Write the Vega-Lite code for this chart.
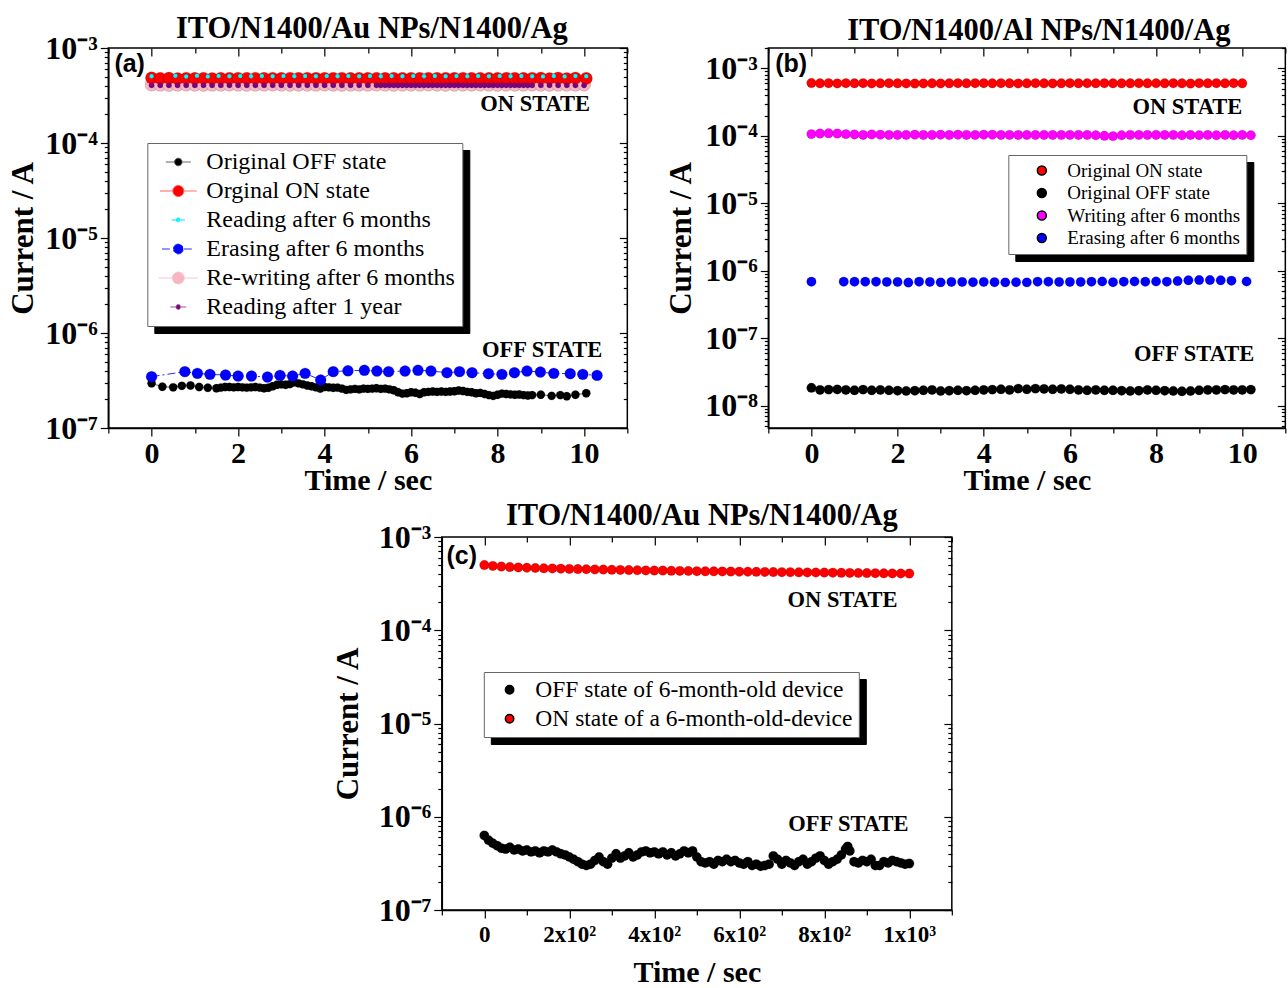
{
"$schema":"https://vega.github.io/schema/vega-lite/v6.json",
"background":"white",
"padding":{"left":6,"top":12,"right":0,"bottom":0},
"config":{"font":"Liberation Serif","view":{"stroke":"black","strokeWidth":1.5},
"axis":{"grid":false,"domainColor":"black","domainWidth":1.5,"tickColor":"black","tickWidth":1.2,"labelFont":"Liberation Serif","labelFontWeight":"bold","labelColor":"black","titleFont":"Liberation Serif","titleFontWeight":"bold","titleColor":"black"},
"legend":{"labelFont":"Liberation Serif","labelColor":"black","labelLimit":500},
"title":{"font":"Liberation Serif","fontWeight":"bold","color":"black","fontSize":30.5}},
"datasets":{
"names":[{"k":"a1","n":"Original OFF state"},{"k":"a2","n":"Orginal ON state"},{"k":"a3","n":"Reading after 6 months"},{"k":"a4","n":"Erasing after 6 months"},{"k":"a5","n":"Re-writing after 6 months"},{"k":"a6","n":"Reading after 1 year"},{"k":"b1","n":"Original ON state"},{"k":"b2","n":"Original OFF state"},{"k":"b3","n":"Writing after 6 months"},{"k":"b4","n":"Erasing after 6 months"},{"k":"c1","n":"OFF state of 6-month-old device"},{"k":"c2","n":"ON state of a 6-month-old-device"}],
"a":[
{"k":"a5","t":0,"i":4.12e-4},{"k":"a5","t":0.2,"i":4.1e-4},{"k":"a5","t":0.4,"i":4.08e-4},{"k":"a5","t":0.6,"i":4.1e-4},{"k":"a5","t":0.8,"i":4.11e-4},{"k":"a5","t":1,"i":4.1e-4},{"k":"a5","t":1.2,"i":4.09e-4},{"k":"a5","t":1.4,"i":4.1e-4},{"k":"a5","t":1.6,"i":4.1e-4},{"k":"a5","t":1.8,"i":4.11e-4},{"k":"a5","t":2,"i":4.1e-4},{"k":"a5","t":2.2,"i":4.09e-4},{"k":"a5","t":2.4,"i":4.1e-4},{"k":"a5","t":2.6,"i":4.1e-4},{"k":"a5","t":2.8,"i":4.11e-4},{"k":"a5","t":3,"i":4.1e-4},{"k":"a5","t":3.2,"i":4.09e-4},{"k":"a5","t":3.4,"i":4.1e-4},{"k":"a5","t":3.6,"i":4.1e-4},{"k":"a5","t":3.8,"i":4.1e-4},{"k":"a5","t":4,"i":4.11e-4},{"k":"a5","t":4.2,"i":4.1e-4},{"k":"a5","t":4.4,"i":4.09e-4},{"k":"a5","t":4.6,"i":4.1e-4},{"k":"a5","t":4.8,"i":4.1e-4},{"k":"a5","t":5,"i":4.1e-4},{"k":"a5","t":5.2,"i":4.11e-4},{"k":"a5","t":5.4,"i":4.1e-4},{"k":"a5","t":5.6,"i":4.09e-4},{"k":"a5","t":5.8,"i":4.1e-4},{"k":"a5","t":6,"i":4.1e-4},{"k":"a5","t":6.2,"i":4.1e-4},{"k":"a5","t":6.4,"i":4.11e-4},{"k":"a5","t":6.6,"i":4.1e-4},{"k":"a5","t":6.8,"i":4.09e-4},{"k":"a5","t":7,"i":4.1e-4},{"k":"a5","t":7.2,"i":4.1e-4},{"k":"a5","t":7.4,"i":4.1e-4},{"k":"a5","t":7.6,"i":4.11e-4},{"k":"a5","t":7.8,"i":4.1e-4},{"k":"a5","t":8,"i":4.09e-4},{"k":"a5","t":8.2,"i":4.1e-4},{"k":"a5","t":8.4,"i":4.1e-4},{"k":"a5","t":8.6,"i":4.1e-4},{"k":"a5","t":8.8,"i":4.11e-4},{"k":"a5","t":9,"i":4.1e-4},{"k":"a5","t":9.2,"i":4.09e-4},{"k":"a5","t":9.4,"i":4.1e-4},{"k":"a5","t":9.6,"i":4.1e-4},{"k":"a5","t":9.8,"i":4.1e-4},{"k":"a5","t":10,"i":4.11e-4},
{"k":"a2","t":0,"i":4.85e-4},{"k":"a2","t":0.2,"i":4.78e-4},{"k":"a2","t":0.4,"i":4.82e-4},{"k":"a2","t":0.6,"i":4.76e-4},{"k":"a2","t":0.8,"i":4.8e-4},{"k":"a2","t":1,"i":4.78e-4},{"k":"a2","t":1.2,"i":4.8e-4},{"k":"a2","t":1.4,"i":4.77e-4},{"k":"a2","t":1.6,"i":4.8e-4},{"k":"a2","t":1.8,"i":4.79e-4},{"k":"a2","t":2,"i":4.8e-4},{"k":"a2","t":2.2,"i":4.78e-4},{"k":"a2","t":2.4,"i":4.8e-4},{"k":"a2","t":2.6,"i":4.79e-4},{"k":"a2","t":2.8,"i":4.8e-4},{"k":"a2","t":3,"i":4.78e-4},{"k":"a2","t":3.2,"i":4.8e-4},{"k":"a2","t":3.4,"i":4.79e-4},{"k":"a2","t":3.6,"i":4.8e-4},{"k":"a2","t":3.8,"i":4.78e-4},{"k":"a2","t":4,"i":4.8e-4},{"k":"a2","t":4.2,"i":4.79e-4},{"k":"a2","t":4.4,"i":4.8e-4},{"k":"a2","t":4.6,"i":4.78e-4},{"k":"a2","t":4.8,"i":4.8e-4},{"k":"a2","t":5,"i":4.79e-4},{"k":"a2","t":5.2,"i":4.8e-4},{"k":"a2","t":5.4,"i":4.78e-4},{"k":"a2","t":5.6,"i":4.8e-4},{"k":"a2","t":5.8,"i":4.79e-4},{"k":"a2","t":6,"i":4.8e-4},{"k":"a2","t":6.2,"i":4.78e-4},{"k":"a2","t":6.4,"i":4.8e-4},{"k":"a2","t":6.6,"i":4.79e-4},{"k":"a2","t":6.8,"i":4.8e-4},{"k":"a2","t":7,"i":4.78e-4},{"k":"a2","t":7.2,"i":4.8e-4},{"k":"a2","t":7.4,"i":4.79e-4},{"k":"a2","t":7.6,"i":4.8e-4},{"k":"a2","t":7.8,"i":4.78e-4},{"k":"a2","t":8,"i":4.8e-4},{"k":"a2","t":8.2,"i":4.79e-4},{"k":"a2","t":8.4,"i":4.8e-4},{"k":"a2","t":8.6,"i":4.78e-4},{"k":"a2","t":8.8,"i":4.8e-4},{"k":"a2","t":9,"i":4.82e-4},{"k":"a2","t":9.2,"i":4.77e-4},{"k":"a2","t":9.4,"i":4.82e-4},{"k":"a2","t":9.6,"i":4.76e-4},{"k":"a2","t":9.8,"i":4.82e-4},{"k":"a2","t":10.05,"i":4.78e-4},
{"k":"a3","t":0,"i":5.05e-4},{"k":"a3","t":0.55,"i":5.1e-4},{"k":"a3","t":0.8,"i":5.02e-4},{"k":"a3","t":1.05,"i":5.1e-4},{"k":"a3","t":1.3,"i":5.0e-4},{"k":"a3","t":1.55,"i":5.08e-4},{"k":"a3","t":1.8,"i":5.05e-4},{"k":"a3","t":2.05,"i":5.06e-4},{"k":"a3","t":2.3,"i":5.05e-4},{"k":"a3","t":2.55,"i":5.06e-4},{"k":"a3","t":2.8,"i":5.05e-4},{"k":"a3","t":3.05,"i":5.06e-4},{"k":"a3","t":3.3,"i":5.05e-4},{"k":"a3","t":3.55,"i":5.06e-4},{"k":"a3","t":3.8,"i":5.05e-4},{"k":"a3","t":4.05,"i":5.06e-4},{"k":"a3","t":4.3,"i":5.05e-4},{"k":"a3","t":4.55,"i":5.06e-4},{"k":"a3","t":4.8,"i":5.05e-4},{"k":"a3","t":5.05,"i":5.06e-4},{"k":"a3","t":5.3,"i":5.05e-4},{"k":"a3","t":5.55,"i":5.06e-4},{"k":"a3","t":5.8,"i":5.05e-4},{"k":"a3","t":6.05,"i":5.06e-4},{"k":"a3","t":6.3,"i":5.05e-4},{"k":"a3","t":6.55,"i":5.06e-4},{"k":"a3","t":6.8,"i":5.05e-4},{"k":"a3","t":7.05,"i":5.06e-4},{"k":"a3","t":7.3,"i":5.05e-4},{"k":"a3","t":7.55,"i":5.06e-4},{"k":"a3","t":7.8,"i":5.05e-4},{"k":"a3","t":8.05,"i":5.06e-4},{"k":"a3","t":8.3,"i":5.05e-4},{"k":"a3","t":8.55,"i":5.06e-4},{"k":"a3","t":8.8,"i":5.05e-4},{"k":"a3","t":9.05,"i":5.02e-4},{"k":"a3","t":9.3,"i":5.08e-4},{"k":"a3","t":9.55,"i":5.02e-4},{"k":"a3","t":9.8,"i":5.08e-4},{"k":"a3","t":10.05,"i":5.04e-4},
{"k":"a6","t":0,"i":4.05e-4},{"k":"a6","t":0.2,"i":4.05e-4},{"k":"a6","t":0.4,"i":4.05e-4},{"k":"a6","t":0.6,"i":4.05e-4},{"k":"a6","t":0.8,"i":4.05e-4},{"k":"a6","t":1,"i":4.05e-4},{"k":"a6","t":1.2,"i":4.05e-4},{"k":"a6","t":1.4,"i":4.05e-4},{"k":"a6","t":1.6,"i":4.05e-4},{"k":"a6","t":1.8,"i":4.05e-4},{"k":"a6","t":2,"i":4.05e-4},{"k":"a6","t":2.2,"i":4.05e-4},{"k":"a6","t":2.4,"i":4.05e-4},{"k":"a6","t":2.6,"i":4.05e-4},{"k":"a6","t":2.8,"i":4.05e-4},{"k":"a6","t":3,"i":4.05e-4},{"k":"a6","t":3.2,"i":4.05e-4},{"k":"a6","t":3.4,"i":4.05e-4},{"k":"a6","t":3.6,"i":4.05e-4},{"k":"a6","t":3.8,"i":4.05e-4},{"k":"a6","t":4,"i":4.05e-4},{"k":"a6","t":4.2,"i":4.05e-4},{"k":"a6","t":4.4,"i":4.05e-4},{"k":"a6","t":4.6,"i":4.05e-4},{"k":"a6","t":4.8,"i":4.05e-4},{"k":"a6","t":5,"i":4.05e-4},{"k":"a6","t":5.2,"i":4.05e-4},{"k":"a6","t":5.3,"i":4.05e-4},{"k":"a6","t":5.4,"i":4.05e-4},{"k":"a6","t":5.5,"i":4.05e-4},{"k":"a6","t":5.6,"i":4.05e-4},{"k":"a6","t":5.7,"i":4.05e-4},{"k":"a6","t":5.8,"i":4.05e-4},{"k":"a6","t":5.9,"i":4.05e-4},{"k":"a6","t":6,"i":4.05e-4},{"k":"a6","t":6.1,"i":4.05e-4},{"k":"a6","t":6.2,"i":4.05e-4},{"k":"a6","t":6.3,"i":4.05e-4},{"k":"a6","t":6.4,"i":4.05e-4},{"k":"a6","t":6.5,"i":4.05e-4},{"k":"a6","t":6.6,"i":4.05e-4},{"k":"a6","t":6.7,"i":4.05e-4},{"k":"a6","t":6.8,"i":4.05e-4},{"k":"a6","t":6.9,"i":4.05e-4},{"k":"a6","t":7,"i":4.05e-4},{"k":"a6","t":7.1,"i":4.05e-4},{"k":"a6","t":7.2,"i":4.05e-4},{"k":"a6","t":7.3,"i":4.05e-4},{"k":"a6","t":7.4,"i":4.05e-4},{"k":"a6","t":7.5,"i":4.05e-4},{"k":"a6","t":7.6,"i":4.05e-4},{"k":"a6","t":7.7,"i":4.05e-4},{"k":"a6","t":7.8,"i":4.05e-4},{"k":"a6","t":7.9,"i":4.05e-4},{"k":"a6","t":8,"i":4.05e-4},{"k":"a6","t":8.1,"i":4.05e-4},{"k":"a6","t":8.2,"i":4.05e-4},{"k":"a6","t":8.3,"i":4.05e-4},{"k":"a6","t":8.4,"i":4.05e-4},{"k":"a6","t":8.5,"i":4.05e-4},{"k":"a6","t":8.6,"i":4.05e-4},{"k":"a6","t":8.7,"i":4.05e-4},{"k":"a6","t":8.8,"i":4.05e-4},{"k":"a6","t":9,"i":4.05e-4},{"k":"a6","t":9.2,"i":4.05e-4},{"k":"a6","t":9.4,"i":4.05e-4},{"k":"a6","t":9.6,"i":4.05e-4},{"k":"a6","t":9.8,"i":4.05e-4},{"k":"a6","t":10,"i":4.05e-4},
{"k":"a1","t":0,"i":2.95e-7},{"k":"a1","t":0.25,"i":2.72e-7},{"k":"a1","t":0.5,"i":2.68e-7},{"k":"a1","t":0.7,"i":2.78e-7},{"k":"a1","t":0.9,"i":2.8e-7},{"k":"a1","t":1.1,"i":2.7e-7},{"k":"a1","t":1.3,"i":2.65e-7},{"k":"a1","t":1.5,"i":2.62e-7},{"k":"a1","t":1.6,"i":2.66e-7},{"k":"a1","t":1.7,"i":2.7e-7},{"k":"a1","t":1.8,"i":2.7e-7},{"k":"a1","t":1.9,"i":2.68e-7},{"k":"a1","t":2,"i":2.7e-7},{"k":"a1","t":2.1,"i":2.68e-7},{"k":"a1","t":2.2,"i":2.66e-7},{"k":"a1","t":2.3,"i":2.68e-7},{"k":"a1","t":2.4,"i":2.7e-7},{"k":"a1","t":2.5,"i":2.66e-7},{"k":"a1","t":2.6,"i":2.62e-7},{"k":"a1","t":2.7,"i":2.65e-7},{"k":"a1","t":2.8,"i":2.75e-7},{"k":"a1","t":2.9,"i":2.85e-7},{"k":"a1","t":3,"i":2.88e-7},{"k":"a1","t":3.1,"i":2.85e-7},{"k":"a1","t":3.2,"i":2.9e-7},{"k":"a1","t":3.3,"i":3.02e-7},{"k":"a1","t":3.4,"i":2.95e-7},{"k":"a1","t":3.5,"i":2.88e-7},{"k":"a1","t":3.6,"i":2.8e-7},{"k":"a1","t":3.7,"i":2.75e-7},{"k":"a1","t":3.8,"i":2.68e-7},{"k":"a1","t":3.9,"i":2.6e-7},{"k":"a1","t":4,"i":2.7e-7},{"k":"a1","t":4.1,"i":2.68e-7},{"k":"a1","t":4.2,"i":2.65e-7},{"k":"a1","t":4.3,"i":2.66e-7},{"k":"a1","t":4.4,"i":2.6e-7},{"k":"a1","t":4.5,"i":2.52e-7},{"k":"a1","t":4.6,"i":2.55e-7},{"k":"a1","t":4.7,"i":2.58e-7},{"k":"a1","t":4.8,"i":2.55e-7},{"k":"a1","t":4.9,"i":2.6e-7},{"k":"a1","t":5,"i":2.58e-7},{"k":"a1","t":5.1,"i":2.6e-7},{"k":"a1","t":5.2,"i":2.62e-7},{"k":"a1","t":5.3,"i":2.58e-7},{"k":"a1","t":5.4,"i":2.6e-7},{"k":"a1","t":5.5,"i":2.55e-7},{"k":"a1","t":5.6,"i":2.5e-7},{"k":"a1","t":5.7,"i":2.38e-7},{"k":"a1","t":5.8,"i":2.3e-7},{"k":"a1","t":5.9,"i":2.32e-7},{"k":"a1","t":6,"i":2.38e-7},{"k":"a1","t":6.1,"i":2.35e-7},{"k":"a1","t":6.2,"i":2.28e-7},{"k":"a1","t":6.3,"i":2.38e-7},{"k":"a1","t":6.4,"i":2.4e-7},{"k":"a1","t":6.5,"i":2.42e-7},{"k":"a1","t":6.6,"i":2.4e-7},{"k":"a1","t":6.7,"i":2.42e-7},{"k":"a1","t":6.8,"i":2.4e-7},{"k":"a1","t":6.9,"i":2.42e-7},{"k":"a1","t":7,"i":2.44e-7},{"k":"a1","t":7.1,"i":2.48e-7},{"k":"a1","t":7.2,"i":2.45e-7},{"k":"a1","t":7.3,"i":2.4e-7},{"k":"a1","t":7.4,"i":2.38e-7},{"k":"a1","t":7.5,"i":2.32e-7},{"k":"a1","t":7.6,"i":2.34e-7},{"k":"a1","t":7.7,"i":2.28e-7},{"k":"a1","t":7.8,"i":2.22e-7},{"k":"a1","t":7.9,"i":2.18e-7},{"k":"a1","t":8,"i":2.24e-7},{"k":"a1","t":8.1,"i":2.3e-7},{"k":"a1","t":8.2,"i":2.28e-7},{"k":"a1","t":8.3,"i":2.26e-7},{"k":"a1","t":8.4,"i":2.24e-7},{"k":"a1","t":8.5,"i":2.25e-7},{"k":"a1","t":8.6,"i":2.22e-7},{"k":"a1","t":8.7,"i":2.2e-7},{"k":"a1","t":8.8,"i":2.22e-7},{"k":"a1","t":9,"i":2.24e-7},{"k":"a1","t":9.25,"i":2.18e-7},{"k":"a1","t":9.45,"i":2.22e-7},{"k":"a1","t":9.6,"i":2.16e-7},{"k":"a1","t":9.8,"i":2.24e-7},{"k":"a1","t":10.05,"i":2.32e-7},
{"k":"a4","t":0,"i":3.47e-7},{"k":"a4","t":0.77,"i":3.92e-7},{"k":"a4","t":1.06,"i":3.76e-7},{"k":"a4","t":1.35,"i":3.67e-7},{"k":"a4","t":1.71,"i":3.61e-7},{"k":"a4","t":2,"i":3.52e-7},{"k":"a4","t":2.31,"i":3.52e-7},{"k":"a4","t":2.68,"i":3.44e-7},{"k":"a4","t":2.97,"i":3.58e-7},{"k":"a4","t":3.26,"i":3.52e-7},{"k":"a4","t":3.55,"i":3.76e-7},{"k":"a4","t":3.91,"i":3.2e-7},{"k":"a4","t":4.2,"i":3.92e-7},{"k":"a4","t":4.54,"i":4.0e-7},{"k":"a4","t":4.92,"i":4.05e-7},{"k":"a4","t":5.21,"i":3.98e-7},{"k":"a4","t":5.48,"i":3.92e-7},{"k":"a4","t":5.86,"i":3.98e-7},{"k":"a4","t":6.16,"i":4.05e-7},{"k":"a4","t":6.46,"i":3.98e-7},{"k":"a4","t":6.83,"i":3.82e-7},{"k":"a4","t":7.12,"i":3.92e-7},{"k":"a4","t":7.41,"i":3.82e-7},{"k":"a4","t":7.79,"i":3.73e-7},{"k":"a4","t":8.1,"i":3.67e-7},{"k":"a4","t":8.39,"i":3.82e-7},{"k":"a4","t":8.68,"i":3.98e-7},{"k":"a4","t":8.99,"i":3.88e-7},{"k":"a4","t":9.3,"i":3.76e-7},{"k":"a4","t":9.68,"i":3.73e-7},{"k":"a4","t":9.97,"i":3.67e-7},{"k":"a4","t":10.3,"i":3.58e-7}
],
"b":[
{"k":"b1","t":0,"i":6.05e-4},{"k":"b1","t":0.2,"i":6.0e-4},{"k":"b1","t":0.4,"i":6.02e-4},{"k":"b1","t":0.6,"i":5.98e-4},{"k":"b1","t":0.8,"i":6.02e-4},{"k":"b1","t":1,"i":6.0e-4},{"k":"b1","t":1.2,"i":6.02e-4},{"k":"b1","t":1.4,"i":5.98e-4},{"k":"b1","t":1.6,"i":6.0e-4},{"k":"b1","t":1.8,"i":6.02e-4},{"k":"b1","t":2,"i":6.0e-4},{"k":"b1","t":2.2,"i":5.98e-4},{"k":"b1","t":2.4,"i":5.95e-4},{"k":"b1","t":2.6,"i":5.97e-4},{"k":"b1","t":2.8,"i":6.0e-4},{"k":"b1","t":3,"i":5.98e-4},{"k":"b1","t":3.2,"i":6.0e-4},{"k":"b1","t":3.4,"i":6.02e-4},{"k":"b1","t":3.6,"i":6.0e-4},{"k":"b1","t":3.8,"i":6.02e-4},{"k":"b1","t":4,"i":6.03e-4},{"k":"b1","t":4.2,"i":6.0e-4},{"k":"b1","t":4.4,"i":6.02e-4},{"k":"b1","t":4.6,"i":6.0e-4},{"k":"b1","t":4.8,"i":5.98e-4},{"k":"b1","t":5,"i":6.0e-4},{"k":"b1","t":5.2,"i":6.02e-4},{"k":"b1","t":5.4,"i":6.0e-4},{"k":"b1","t":5.6,"i":5.98e-4},{"k":"b1","t":5.8,"i":6.0e-4},{"k":"b1","t":6,"i":6.02e-4},{"k":"b1","t":6.2,"i":6.0e-4},{"k":"b1","t":6.4,"i":6.01e-4},{"k":"b1","t":6.6,"i":6.0e-4},{"k":"b1","t":6.8,"i":6.02e-4},{"k":"b1","t":7,"i":6.0e-4},{"k":"b1","t":7.2,"i":5.99e-4},{"k":"b1","t":7.4,"i":6.0e-4},{"k":"b1","t":7.6,"i":6.02e-4},{"k":"b1","t":7.8,"i":6.0e-4},{"k":"b1","t":8,"i":6.01e-4},{"k":"b1","t":8.2,"i":6.0e-4},{"k":"b1","t":8.4,"i":6.02e-4},{"k":"b1","t":8.6,"i":6.0e-4},{"k":"b1","t":8.8,"i":5.95e-4},{"k":"b1","t":9,"i":6.02e-4},{"k":"b1","t":9.2,"i":6.0e-4},{"k":"b1","t":9.4,"i":6.02e-4},{"k":"b1","t":9.6,"i":6.0e-4},{"k":"b1","t":9.8,"i":6.02e-4},{"k":"b1","t":10,"i":6.0e-4},
{"k":"b3","t":0,"i":1.06e-4},{"k":"b3","t":0.2,"i":1.08e-4},{"k":"b3","t":0.4,"i":1.09e-4},{"k":"b3","t":0.6,"i":1.08e-4},{"k":"b3","t":0.8,"i":1.06e-4},{"k":"b3","t":1,"i":1.05e-4},{"k":"b3","t":1.2,"i":1.03e-4},{"k":"b3","t":1.4,"i":1.05e-4},{"k":"b3","t":1.6,"i":1.04e-4},{"k":"b3","t":1.8,"i":1.03e-4},{"k":"b3","t":2,"i":1.03e-4},{"k":"b3","t":2.2,"i":1.03e-4},{"k":"b3","t":2.4,"i":1.04e-4},{"k":"b3","t":2.6,"i":1.03e-4},{"k":"b3","t":2.8,"i":1.03e-4},{"k":"b3","t":3,"i":1.04e-4},{"k":"b3","t":3.2,"i":1.03e-4},{"k":"b3","t":3.4,"i":1.04e-4},{"k":"b3","t":3.6,"i":1.03e-4},{"k":"b3","t":3.8,"i":1.03e-4},{"k":"b3","t":4,"i":1.04e-4},{"k":"b3","t":4.2,"i":1.04e-4},{"k":"b3","t":4.4,"i":1.03e-4},{"k":"b3","t":4.6,"i":1.03e-4},{"k":"b3","t":4.8,"i":1.03e-4},{"k":"b3","t":5,"i":1.03e-4},{"k":"b3","t":5.2,"i":1.03e-4},{"k":"b3","t":5.4,"i":1.03e-4},{"k":"b3","t":5.6,"i":1.03e-4},{"k":"b3","t":5.8,"i":1.03e-4},{"k":"b3","t":6,"i":1.03e-4},{"k":"b3","t":6.2,"i":1.03e-4},{"k":"b3","t":6.4,"i":1.03e-4},{"k":"b3","t":6.6,"i":1.02e-4},{"k":"b3","t":6.8,"i":1.0e-4},{"k":"b3","t":7,"i":0.99e-4},{"k":"b3","t":7.2,"i":1.02e-4},{"k":"b3","t":7.4,"i":1.03e-4},{"k":"b3","t":7.6,"i":1.03e-4},{"k":"b3","t":7.8,"i":1.03e-4},{"k":"b3","t":8,"i":1.03e-4},{"k":"b3","t":8.2,"i":1.03e-4},{"k":"b3","t":8.4,"i":1.03e-4},{"k":"b3","t":8.6,"i":1.02e-4},{"k":"b3","t":8.8,"i":1.03e-4},{"k":"b3","t":9,"i":1.02e-4},{"k":"b3","t":9.2,"i":1.03e-4},{"k":"b3","t":9.4,"i":1.02e-4},{"k":"b3","t":9.6,"i":1.03e-4},{"k":"b3","t":9.8,"i":1.02e-4},{"k":"b3","t":10,"i":1.03e-4},{"k":"b3","t":10.2,"i":1.02e-4},
{"k":"b4","t":0,"i":6.9e-7},{"k":"b4","t":0.75,"i":6.9e-7},{"k":"b4","t":1,"i":6.9e-7},{"k":"b4","t":1.25,"i":6.9e-7},{"k":"b4","t":1.5,"i":6.9e-7},{"k":"b4","t":1.75,"i":6.85e-7},{"k":"b4","t":2,"i":6.85e-7},{"k":"b4","t":2.25,"i":6.7e-7},{"k":"b4","t":2.5,"i":6.9e-7},{"k":"b4","t":2.75,"i":6.85e-7},{"k":"b4","t":3,"i":6.75e-7},{"k":"b4","t":3.25,"i":6.85e-7},{"k":"b4","t":3.5,"i":6.85e-7},{"k":"b4","t":3.75,"i":6.8e-7},{"k":"b4","t":4,"i":6.85e-7},{"k":"b4","t":4.25,"i":6.8e-7},{"k":"b4","t":4.5,"i":6.75e-7},{"k":"b4","t":4.75,"i":6.8e-7},{"k":"b4","t":5,"i":6.75e-7},{"k":"b4","t":5.25,"i":6.9e-7},{"k":"b4","t":5.5,"i":6.9e-7},{"k":"b4","t":5.75,"i":6.85e-7},{"k":"b4","t":6,"i":6.85e-7},{"k":"b4","t":6.25,"i":6.85e-7},{"k":"b4","t":6.5,"i":6.9e-7},{"k":"b4","t":6.75,"i":6.95e-7},{"k":"b4","t":7,"i":6.8e-7},{"k":"b4","t":7.25,"i":6.9e-7},{"k":"b4","t":7.5,"i":6.95e-7},{"k":"b4","t":7.75,"i":6.9e-7},{"k":"b4","t":8,"i":6.95e-7},{"k":"b4","t":8.25,"i":6.9e-7},{"k":"b4","t":8.5,"i":7.05e-7},{"k":"b4","t":8.75,"i":7.25e-7},{"k":"b4","t":9,"i":7.3e-7},{"k":"b4","t":9.25,"i":7.3e-7},{"k":"b4","t":9.5,"i":7.25e-7},{"k":"b4","t":9.75,"i":7.15e-7},{"k":"b4","t":10.1,"i":6.95e-7},
{"k":"b2","t":0,"i":1.85e-8},{"k":"b2","t":0.2,"i":1.72e-8},{"k":"b2","t":0.4,"i":1.74e-8},{"k":"b2","t":0.6,"i":1.75e-8},{"k":"b2","t":0.8,"i":1.72e-8},{"k":"b2","t":1,"i":1.7e-8},{"k":"b2","t":1.2,"i":1.74e-8},{"k":"b2","t":1.4,"i":1.7e-8},{"k":"b2","t":1.6,"i":1.72e-8},{"k":"b2","t":1.8,"i":1.7e-8},{"k":"b2","t":2,"i":1.68e-8},{"k":"b2","t":2.2,"i":1.66e-8},{"k":"b2","t":2.4,"i":1.68e-8},{"k":"b2","t":2.6,"i":1.7e-8},{"k":"b2","t":2.8,"i":1.72e-8},{"k":"b2","t":3,"i":1.66e-8},{"k":"b2","t":3.2,"i":1.68e-8},{"k":"b2","t":3.4,"i":1.7e-8},{"k":"b2","t":3.6,"i":1.68e-8},{"k":"b2","t":3.8,"i":1.7e-8},{"k":"b2","t":4,"i":1.72e-8},{"k":"b2","t":4.2,"i":1.74e-8},{"k":"b2","t":4.4,"i":1.76e-8},{"k":"b2","t":4.6,"i":1.72e-8},{"k":"b2","t":4.8,"i":1.8e-8},{"k":"b2","t":5,"i":1.76e-8},{"k":"b2","t":5.2,"i":1.8e-8},{"k":"b2","t":5.4,"i":1.78e-8},{"k":"b2","t":5.6,"i":1.76e-8},{"k":"b2","t":5.8,"i":1.78e-8},{"k":"b2","t":6,"i":1.76e-8},{"k":"b2","t":6.2,"i":1.72e-8},{"k":"b2","t":6.4,"i":1.7e-8},{"k":"b2","t":6.6,"i":1.72e-8},{"k":"b2","t":6.8,"i":1.7e-8},{"k":"b2","t":7,"i":1.7e-8},{"k":"b2","t":7.2,"i":1.68e-8},{"k":"b2","t":7.4,"i":1.66e-8},{"k":"b2","t":7.6,"i":1.68e-8},{"k":"b2","t":7.8,"i":1.72e-8},{"k":"b2","t":8,"i":1.7e-8},{"k":"b2","t":8.2,"i":1.68e-8},{"k":"b2","t":8.4,"i":1.66e-8},{"k":"b2","t":8.6,"i":1.64e-8},{"k":"b2","t":8.8,"i":1.66e-8},{"k":"b2","t":9,"i":1.7e-8},{"k":"b2","t":9.2,"i":1.72e-8},{"k":"b2","t":9.4,"i":1.72e-8},{"k":"b2","t":9.6,"i":1.74e-8},{"k":"b2","t":9.8,"i":1.72e-8},{"k":"b2","t":10,"i":1.72e-8},{"k":"b2","t":10.2,"i":1.74e-8}
],
"c":[
{"k":"c2","t":0,"i":5.0e-4},{"k":"c2","t":20,"i":4.9e-4},{"k":"c2","t":40,"i":4.82e-4},{"k":"c2","t":60,"i":4.76e-4},{"k":"c2","t":80,"i":4.72e-4},{"k":"c2","t":100,"i":4.68e-4},{"k":"c2","t":120,"i":4.65e-4},{"k":"c2","t":140,"i":4.62e-4},{"k":"c2","t":160,"i":4.6e-4},{"k":"c2","t":180,"i":4.57e-4},{"k":"c2","t":200,"i":4.55e-4},{"k":"c2","t":220,"i":4.53e-4},{"k":"c2","t":240,"i":4.51e-4},{"k":"c2","t":260,"i":4.49e-4},{"k":"c2","t":280,"i":4.47e-4},{"k":"c2","t":300,"i":4.45e-4},{"k":"c2","t":320,"i":4.43e-4},{"k":"c2","t":340,"i":4.42e-4},{"k":"c2","t":360,"i":4.4e-4},{"k":"c2","t":380,"i":4.38e-4},{"k":"c2","t":400,"i":4.37e-4},{"k":"c2","t":420,"i":4.36e-4},{"k":"c2","t":440,"i":4.34e-4},{"k":"c2","t":460,"i":4.33e-4},{"k":"c2","t":480,"i":4.32e-4},{"k":"c2","t":500,"i":4.3e-4},{"k":"c2","t":520,"i":4.29e-4},{"k":"c2","t":540,"i":4.28e-4},{"k":"c2","t":560,"i":4.27e-4},{"k":"c2","t":580,"i":4.26e-4},{"k":"c2","t":600,"i":4.25e-4},{"k":"c2","t":620,"i":4.24e-4},{"k":"c2","t":640,"i":4.23e-4},{"k":"c2","t":660,"i":4.22e-4},{"k":"c2","t":680,"i":4.21e-4},{"k":"c2","t":700,"i":4.2e-4},{"k":"c2","t":720,"i":4.19e-4},{"k":"c2","t":740,"i":4.18e-4},{"k":"c2","t":760,"i":4.17e-4},{"k":"c2","t":780,"i":4.16e-4},{"k":"c2","t":800,"i":4.15e-4},{"k":"c2","t":820,"i":4.14e-4},{"k":"c2","t":840,"i":4.13e-4},{"k":"c2","t":860,"i":4.12e-4},{"k":"c2","t":880,"i":4.11e-4},{"k":"c2","t":900,"i":4.1e-4},{"k":"c2","t":920,"i":4.09e-4},{"k":"c2","t":940,"i":4.08e-4},{"k":"c2","t":960,"i":4.07e-4},{"k":"c2","t":980,"i":4.06e-4},{"k":"c2","t":1000,"i":4.05e-4},
{"k":"c1","t":0,"i":6.3e-7},{"k":"c1","t":10,"i":5.6e-7},{"k":"c1","t":20,"i":5.2e-7},{"k":"c1","t":30,"i":4.9e-7},{"k":"c1","t":40,"i":4.6e-7},{"k":"c1","t":50,"i":4.5e-7},{"k":"c1","t":60,"i":4.7e-7},{"k":"c1","t":70,"i":4.4e-7},{"k":"c1","t":80,"i":4.5e-7},{"k":"c1","t":90,"i":4.3e-7},{"k":"c1","t":100,"i":4.4e-7},{"k":"c1","t":110,"i":4.2e-7},{"k":"c1","t":120,"i":4.3e-7},{"k":"c1","t":130,"i":4.1e-7},{"k":"c1","t":140,"i":4.3e-7},{"k":"c1","t":150,"i":4.2e-7},{"k":"c1","t":160,"i":4.4e-7},{"k":"c1","t":170,"i":4.2e-7},{"k":"c1","t":180,"i":4.0e-7},{"k":"c1","t":190,"i":3.9e-7},{"k":"c1","t":200,"i":3.7e-7},{"k":"c1","t":210,"i":3.5e-7},{"k":"c1","t":220,"i":3.3e-7},{"k":"c1","t":230,"i":3.1e-7},{"k":"c1","t":240,"i":3.0e-7},{"k":"c1","t":250,"i":3.1e-7},{"k":"c1","t":260,"i":3.4e-7},{"k":"c1","t":270,"i":3.7e-7},{"k":"c1","t":280,"i":3.3e-7},{"k":"c1","t":290,"i":3.1e-7},{"k":"c1","t":300,"i":3.6e-7},{"k":"c1","t":310,"i":4.0e-7},{"k":"c1","t":320,"i":3.6e-7},{"k":"c1","t":330,"i":3.8e-7},{"k":"c1","t":340,"i":4.1e-7},{"k":"c1","t":350,"i":3.7e-7},{"k":"c1","t":360,"i":3.9e-7},{"k":"c1","t":370,"i":4.2e-7},{"k":"c1","t":380,"i":4.3e-7},{"k":"c1","t":390,"i":4.1e-7},{"k":"c1","t":400,"i":4.2e-7},{"k":"c1","t":410,"i":4.0e-7},{"k":"c1","t":420,"i":4.2e-7},{"k":"c1","t":430,"i":3.9e-7},{"k":"c1","t":440,"i":4.1e-7},{"k":"c1","t":450,"i":3.8e-7},{"k":"c1","t":460,"i":4.0e-7},{"k":"c1","t":470,"i":4.3e-7},{"k":"c1","t":480,"i":4.1e-7},{"k":"c1","t":490,"i":4.3e-7},{"k":"c1","t":500,"i":3.7e-7},{"k":"c1","t":510,"i":3.3e-7},{"k":"c1","t":520,"i":3.2e-7},{"k":"c1","t":530,"i":3.3e-7},{"k":"c1","t":540,"i":3.1e-7},{"k":"c1","t":550,"i":3.4e-7},{"k":"c1","t":560,"i":3.3e-7},{"k":"c1","t":570,"i":3.5e-7},{"k":"c1","t":580,"i":3.3e-7},{"k":"c1","t":590,"i":3.4e-7},{"k":"c1","t":600,"i":3.2e-7},{"k":"c1","t":610,"i":3.1e-7},{"k":"c1","t":620,"i":3.3e-7},{"k":"c1","t":630,"i":3.0e-7},{"k":"c1","t":640,"i":3.1e-7},{"k":"c1","t":650,"i":2.95e-7},{"k":"c1","t":660,"i":3.0e-7},{"k":"c1","t":670,"i":3.1e-7},{"k":"c1","t":680,"i":3.8e-7},{"k":"c1","t":690,"i":3.5e-7},{"k":"c1","t":700,"i":3.1e-7},{"k":"c1","t":710,"i":3.4e-7},{"k":"c1","t":720,"i":3.2e-7},{"k":"c1","t":730,"i":3.0e-7},{"k":"c1","t":740,"i":3.3e-7},{"k":"c1","t":750,"i":3.5e-7},{"k":"c1","t":760,"i":3.1e-7},{"k":"c1","t":770,"i":3.3e-7},{"k":"c1","t":780,"i":3.6e-7},{"k":"c1","t":790,"i":3.8e-7},{"k":"c1","t":800,"i":3.4e-7},{"k":"c1","t":810,"i":3.1e-7},{"k":"c1","t":820,"i":3.3e-7},{"k":"c1","t":830,"i":3.5e-7},{"k":"c1","t":840,"i":3.9e-7},{"k":"c1","t":850,"i":4.5e-7},{"k":"c1","t":855,"i":4.8e-7},{"k":"c1","t":860,"i":4.3e-7},{"k":"c1","t":870,"i":3.3e-7},{"k":"c1","t":880,"i":3.2e-7},{"k":"c1","t":890,"i":3.4e-7},{"k":"c1","t":900,"i":3.3e-7},{"k":"c1","t":910,"i":3.5e-7},{"k":"c1","t":920,"i":3.0e-7},{"k":"c1","t":930,"i":3.0e-7},{"k":"c1","t":940,"i":3.3e-7},{"k":"c1","t":950,"i":3.2e-7},{"k":"c1","t":960,"i":3.4e-7},{"k":"c1","t":970,"i":3.3e-7},{"k":"c1","t":980,"i":3.2e-7},{"k":"c1","t":990,"i":3.1e-7},{"k":"c1","t":1000,"i":3.15e-7}
]
},
"resolve":{"scale":{"fill":"independent","stroke":"independent","strokeDash":"independent","size":"independent","shape":"independent"},"legend":{"fill":"independent","stroke":"independent","strokeDash":"independent","size":"independent","shape":"independent"}},
"vconcat":[
{"hconcat":[
{"width":519,"height":380,
"title":{"text":"ITO/N1400/Au NPs/N1400/Ag","offset":-12,"dx":4},
"resolve":{"axis":{"x":"independent","y":"independent"}},
"layer":[
{"data":{"name":"a"},"transform":[{"lookup":"k","from":{"data":{"name":"names"},"key":"k","fields":["n"]}}],
"mark":{"type":"line","strokeWidth":1},
"encoding":{
"x":{"field":"t","type":"quantitative","scale":{"domain":[-1,11],"nice":false,"zero":false},"axis":{"orient":"bottom","values":[-1,0,1,2,3,4,5,6,7,8,9,10,11],"labelExpr":"datum.value >= 0 && datum.value <= 10 && datum.value % 2 == 0 ? datum.label : ''","labelFontSize":30,"labelPadding":2,"labelOverlap":false,"labelFlush":false,"tickSize":{"condition":{"test":"datum.value % 2 == 0","value":8},"value":5},"title":"Time / sec","titleFontSize":30,"titlePadding":-3}},
"y":{"field":"i","type":"quantitative","scale":{"type":"log","domain":[1e-7,1e-3],"nice":false},"axis":{"orient":"left","values":[1e-7,2e-7,3e-7,4e-7,5e-7,6e-7,7e-7,8e-7,9e-7,1e-6,2e-6,3e-6,4e-6,5e-6,6e-6,7e-6,8e-6,9e-6,1e-5,2e-5,3e-5,4e-5,5e-5,6e-5,7e-5,8e-5,9e-5,1e-4,2e-4,3e-4,4e-4,5e-4,6e-4,7e-4,8e-4,9e-4,1e-3],"labelExpr":"abs(log(datum.value)/LN10 - round(log(datum.value)/LN10)) < 0.001 ? '10⁻' + ['⁰','¹','²','³','⁴','⁵','⁶','⁷','⁸','⁹'][-round(log(datum.value)/LN10)] : ''","labelFontSize":32,"labelPadding":3,"labelOverlap":false,"labelFlush":false,"tickSize":{"condition":{"test":"abs(log(datum.value)/LN10 - round(log(datum.value)/LN10)) < 0.001","value":8},"value":4},"title":"Current / A","titleFontSize":31,"titlePadding":5}},
"stroke":{"field":"n","type":"nominal","scale":{"domain":["Original OFF state","Orginal ON state","Reading after 6 months","Erasing after 6 months","Re-writing after 6 months","Reading after 1 year"],"range":["#555555","#ff5a5a","#00e0ff","#2a2aff","#f5c2cc","#a050a0"]},"legend":{"title":null,"orient":"none","legendX":39,"legendY":95,"fillColor":"white","strokeColor":"#666666","padding":7,"labelFontSize":24,"rowPadding":5,"symbolType":"M-3,0H-1M1,0H3M-0.9,0A0.9,0.9,0,1,1,0.9,0A0.9,0.9,0,1,1,-0.9,0","symbolSize":196,"symbolOffset":12,"labelOffset":16,"symbolStrokeWidth":1,"zindex":2}},
"strokeDash":{"field":"n","type":"nominal","scale":{"domain":["Original OFF state","Orginal ON state","Reading after 6 months","Erasing after 6 months","Re-writing after 6 months","Reading after 1 year"],"range":[[1,0],[1,0],[6,4],[8,3,2,3],[1,0],[6,4]]},"legend":{"title":null,"orient":"none","legendX":39,"legendY":95,"fillColor":"white","strokeColor":"#666666","padding":7,"labelFontSize":24,"rowPadding":5,"symbolType":"M-3,0H-1M1,0H3M-0.9,0A0.9,0.9,0,1,1,0.9,0A0.9,0.9,0,1,1,-0.9,0","symbolSize":196,"symbolOffset":12,"labelOffset":16,"symbolStrokeWidth":1,"zindex":2}}
}},
{"data":{"name":"a"},"transform":[{"lookup":"k","from":{"data":{"name":"names"},"key":"k","fields":["n"]}}],
"mark":{"type":"point","filled":true,"opacity":1,"stroke":"black","strokeWidth":0.5,"strokeOpacity":0.3},
"encoding":{
"x":{"field":"t","type":"quantitative","scale":{"domain":[-1,11],"nice":false,"zero":false},"axis":null},
"y":{"field":"i","type":"quantitative","scale":{"type":"log","domain":[1e-7,1e-3],"nice":false},"axis":null},
"fill":{"field":"n","type":"nominal","scale":{"domain":["Original OFF state","Orginal ON state","Reading after 6 months","Erasing after 6 months","Re-writing after 6 months","Reading after 1 year"],"range":["#000000","#ff0000","#00ffff","#0000ff","#f7b6c2","#800080"]},"legend":{"title":null,"orient":"none","legendX":39,"legendY":95,"fillColor":"white","strokeColor":"#666666","padding":7,"labelFontSize":24,"rowPadding":5,"symbolType":"M-3,0H-1M1,0H3M-0.9,0A0.9,0.9,0,1,1,0.9,0A0.9,0.9,0,1,1,-0.9,0","symbolSize":196,"symbolOffset":12,"labelOffset":16,"symbolStrokeWidth":1,"zindex":2}},
"size":{"field":"n","type":"nominal","scale":{"type":"ordinal","domain":["Original OFF state","Orginal ON state","Reading after 6 months","Erasing after 6 months","Re-writing after 6 months","Reading after 1 year"],"range":[70,150,20,120,170,28]},"legend":null},
"shape":{"field":"n","type":"nominal","scale":{"range":["circle"]},"legend":{"title":null,"orient":"none","legendX":46,"legendY":102,"fillColor":"black","strokeColor":"black","padding":7,"labelFontSize":24,"rowPadding":5,"labelColor":"black","symbolSize":196,"symbolOffset":12,"labelOffset":16,"symbolFillColor":"black","symbolStrokeColor":"black","zindex":1}}
}},
{"data":{"values":[{"t":10.14,"i":2.57e-4,"l":"ON STATE"},{"t":10.42,"i":6.6e-7,"l":"OFF STATE"}]},
"mark":{"type":"text","font":"Liberation Serif","fontWeight":"bold","fontSize":22.5,"align":"right","baseline":"middle","color":"black"},
"encoding":{
"x":{"field":"t","type":"quantitative","scale":{"domain":[-1,11],"nice":false,"zero":false},"axis":{"orient":"top","values":[-1,0,1,2,3,4,5,6,7,8,9,10,11],"labels":false,"title":null,"domain":false,"tickSize":{"condition":{"test":"datum.value % 2 == 0","value":-8},"value":-5}}},
"y":{"field":"i","type":"quantitative","scale":{"type":"log","domain":[1e-7,1e-3],"nice":false},"axis":{"orient":"right","values":[1e-7,2e-7,3e-7,4e-7,5e-7,6e-7,7e-7,8e-7,9e-7,1e-6,2e-6,3e-6,4e-6,5e-6,6e-6,7e-6,8e-6,9e-6,1e-5,2e-5,3e-5,4e-5,5e-5,6e-5,7e-5,8e-5,9e-5,1e-4,2e-4,3e-4,4e-4,5e-4,6e-4,7e-4,8e-4,9e-4,1e-3],"labels":false,"title":null,"domain":false,"tickSize":{"condition":{"test":"abs(log(datum.value)/LN10 - round(log(datum.value)/LN10)) < 0.001","value":-8},"value":-4}}},
"text":{"field":"l"}}},
{"data":{"values":[{"t":-0.86,"i":6.8e-4,"l":"(a)"}]},
"mark":{"type":"text","font":"Liberation Sans","fontWeight":"bold","fontSize":25,"align":"left","baseline":"middle","color":"black"},
"encoding":{
"x":{"field":"t","type":"quantitative","scale":{"domain":[-1,11],"nice":false,"zero":false},"axis":null},
"y":{"field":"i","type":"quantitative","scale":{"type":"log","domain":[1e-7,1e-3],"nice":false},"axis":null},
"text":{"field":"l"}}}
]},
{"width":517,"height":380,
"title":{"text":"ITO/N1400/Al NPs/N1400/Ag","offset":-14,"dx":12},
"resolve":{"axis":{"x":"independent","y":"independent"}},
"layer":[
{"data":{"name":"b"},"transform":[{"lookup":"k","from":{"data":{"name":"names"},"key":"k","fields":["n"]}}],
"mark":{"type":"point","filled":true,"opacity":1,"stroke":"black","strokeWidth":0.5,"strokeOpacity":0.3,"size":90},
"encoding":{
"x":{"field":"t","type":"quantitative","scale":{"domain":[-1,11],"nice":false,"zero":false},"axis":{"orient":"bottom","values":[-1,0,1,2,3,4,5,6,7,8,9,10,11],"labelExpr":"datum.value >= 0 && datum.value <= 10 && datum.value % 2 == 0 ? datum.label : ''","labelFontSize":30,"labelPadding":2,"labelOverlap":false,"labelFlush":false,"tickSize":{"condition":{"test":"datum.value % 2 == 0","value":8},"value":5},"title":"Time / sec","titleFontSize":30,"titlePadding":-3}},
"y":{"field":"i","type":"quantitative","scale":{"type":"log","domain":[4.7e-9,2e-3],"nice":false},"axis":{"orient":"left","values":[5e-9,6e-9,7e-9,8e-9,9e-9,1e-8,2e-8,3e-8,4e-8,5e-8,6e-8,7e-8,8e-8,9e-8,1e-7,2e-7,3e-7,4e-7,5e-7,6e-7,7e-7,8e-7,9e-7,1e-6,2e-6,3e-6,4e-6,5e-6,6e-6,7e-6,8e-6,9e-6,1e-5,2e-5,3e-5,4e-5,5e-5,6e-5,7e-5,8e-5,9e-5,1e-4,2e-4,3e-4,4e-4,5e-4,6e-4,7e-4,8e-4,9e-4,1e-3,2e-3],"labelExpr":"abs(log(datum.value)/LN10 - round(log(datum.value)/LN10)) < 0.001 ? '10⁻' + ['⁰','¹','²','³','⁴','⁵','⁶','⁷','⁸','⁹'][-round(log(datum.value)/LN10)] : ''","labelFontSize":32,"labelPadding":3,"labelOverlap":false,"labelFlush":false,"tickSize":{"condition":{"test":"abs(log(datum.value)/LN10 - round(log(datum.value)/LN10)) < 0.001","value":8},"value":4},"title":"Current / A","titleFontSize":31,"titlePadding":7}},
"fill":{"field":"n","type":"nominal","scale":{"domain":["Original ON state","Original OFF state","Writing after 6 months","Erasing after 6 months"],"range":["#ff0000","#000000","#ff00ff","#0000ff"]},"legend":{"title":null,"orient":"none","legendX":240,"legendY":107,"fillColor":"white","strokeColor":"#666666","padding":6,"labelFontSize":19,"rowPadding":2.5,"symbolType":"circle","symbolSize":80,"symbolOffset":18,"labelOffset":16,"zindex":2}},
"shape":{"field":"n","type":"nominal","scale":{"range":["circle"]},"legend":{"title":null,"orient":"none","legendX":247,"legendY":114,"fillColor":"black","strokeColor":"black","padding":6,"labelFontSize":19,"rowPadding":2.5,"labelColor":"black","symbolSize":80,"symbolOffset":18,"labelOffset":16,"symbolFillColor":"black","symbolStrokeColor":"black","zindex":1}}
}},
{"data":{"values":[{"t":10.0,"i":2.67e-4,"l":"ON STATE"},{"t":10.28,"i":5.85e-8,"l":"OFF STATE"}]},
"mark":{"type":"text","font":"Liberation Serif","fontWeight":"bold","fontSize":22.5,"align":"right","baseline":"middle","color":"black"},
"encoding":{
"x":{"field":"t","type":"quantitative","scale":{"domain":[-1,11],"nice":false,"zero":false},"axis":{"orient":"top","values":[-1,0,1,2,3,4,5,6,7,8,9,10,11],"labels":false,"title":null,"domain":false,"tickSize":{"condition":{"test":"datum.value % 2 == 0","value":-8},"value":-5}}},
"y":{"field":"i","type":"quantitative","scale":{"type":"log","domain":[4.7e-9,2e-3],"nice":false},"axis":{"orient":"right","values":[5e-9,6e-9,7e-9,8e-9,9e-9,1e-8,2e-8,3e-8,4e-8,5e-8,6e-8,7e-8,8e-8,9e-8,1e-7,2e-7,3e-7,4e-7,5e-7,6e-7,7e-7,8e-7,9e-7,1e-6,2e-6,3e-6,4e-6,5e-6,6e-6,7e-6,8e-6,9e-6,1e-5,2e-5,3e-5,4e-5,5e-5,6e-5,7e-5,8e-5,9e-5,1e-4,2e-4,3e-4,4e-4,5e-4,6e-4,7e-4,8e-4,9e-4,1e-3,2e-3],"labels":false,"title":null,"domain":false,"tickSize":{"condition":{"test":"abs(log(datum.value)/LN10 - round(log(datum.value)/LN10)) < 0.001","value":-8},"value":-4}}},
"text":{"field":"l"}}},
{"data":{"values":[{"t":-0.84,"i":1.16e-3,"l":"(b)"}]},
"mark":{"type":"text","font":"Liberation Sans","fontWeight":"bold","fontSize":25,"align":"left","baseline":"middle","color":"black"},
"encoding":{
"x":{"field":"t","type":"quantitative","scale":{"domain":[-1,11],"nice":false,"zero":false},"axis":null},
"y":{"field":"i","type":"quantitative","scale":{"type":"log","domain":[4.7e-9,2e-3],"nice":false},"axis":null},
"text":{"field":"l"}}}
]}
],"spacing":35,
"resolve":{"scale":{"fill":"independent","stroke":"independent","strokeDash":"independent","size":"independent","shape":"independent"},"legend":{"fill":"independent","stroke":"independent","strokeDash":"independent","size":"independent","shape":"independent"}}},
{"width":510,"height":373,
"title":{"text":"ITO/N1400/Au NPs/N1400/Ag","offset":-10,"dx":5},
"resolve":{"axis":{"x":"independent","y":"independent"}},
"layer":[
{"data":{"name":"c"},"transform":[{"lookup":"k","from":{"data":{"name":"names"},"key":"k","fields":["n"]}}],
"mark":{"type":"point","filled":true,"opacity":1,"stroke":"black","strokeWidth":0.5,"strokeOpacity":0.3,"size":90},
"encoding":{
"x":{"field":"t","type":"quantitative","scale":{"domain":[-100,1100],"nice":false,"zero":false},"axis":{"orient":"bottom","values":[-100,0,100,200,300,400,500,600,700,800,900,1000,1100],"labelExpr":"datum.value == 0 ? '0' : datum.value == 1000 ? '1x10³' : (datum.value > 0 && datum.value < 1000 && datum.value % 200 == 0) ? format(datum.value/100,'d') + 'x10²' : ''","labelFontSize":23,"labelPadding":5,"labelOverlap":false,"labelFlush":false,"tickSize":{"condition":{"test":"datum.value % 200 == 0","value":8},"value":5},"title":"Time / sec","titleFontSize":30,"titlePadding":11}},
"y":{"field":"i","type":"quantitative","scale":{"type":"log","domain":[1e-7,1e-3],"nice":false},"axis":{"orient":"left","values":[1e-7,2e-7,3e-7,4e-7,5e-7,6e-7,7e-7,8e-7,9e-7,1e-6,2e-6,3e-6,4e-6,5e-6,6e-6,7e-6,8e-6,9e-6,1e-5,2e-5,3e-5,4e-5,5e-5,6e-5,7e-5,8e-5,9e-5,1e-4,2e-4,3e-4,4e-4,5e-4,6e-4,7e-4,8e-4,9e-4,1e-3],"labelExpr":"abs(log(datum.value)/LN10 - round(log(datum.value)/LN10)) < 0.001 ? '10⁻' + ['⁰','¹','²','³','⁴','⁵','⁶','⁷','⁸','⁹'][-round(log(datum.value)/LN10)] : ''","labelFontSize":32,"labelPadding":3,"labelOverlap":false,"labelFlush":false,"tickSize":{"condition":{"test":"abs(log(datum.value)/LN10 - round(log(datum.value)/LN10)) < 0.001","value":8},"value":4},"title":"Current / A","titleFontSize":31,"titlePadding":14}},
"fill":{"field":"n","type":"nominal","scale":{"domain":["OFF state of 6-month-old device","ON state of a 6-month-old-device"],"range":["#000000","#ff0000"]},"legend":{"title":null,"orient":"none","legendX":42,"legendY":135,"fillColor":"white","strokeColor":"#666666","padding":6,"labelFontSize":23.5,"rowPadding":4,"symbolType":"circle","symbolSize":70,"symbolOffset":8,"labelOffset":14,"zindex":2}},
"shape":{"field":"n","type":"nominal","scale":{"range":["circle"]},"legend":{"title":null,"orient":"none","legendX":49,"legendY":142,"fillColor":"black","strokeColor":"black","padding":6,"labelFontSize":23.5,"rowPadding":4,"labelColor":"black","symbolSize":70,"symbolOffset":8,"labelOffset":14,"symbolFillColor":"black","symbolStrokeColor":"black","zindex":1}}
}},
{"data":{"values":[{"t":972,"i":2.1e-4,"l":"ON STATE"},{"t":998,"i":8.4e-7,"l":"OFF STATE"}]},
"mark":{"type":"text","font":"Liberation Serif","fontWeight":"bold","fontSize":22.5,"align":"right","baseline":"middle","color":"black"},
"encoding":{
"x":{"field":"t","type":"quantitative","scale":{"domain":[-100,1100],"nice":false,"zero":false},"axis":{"orient":"top","values":[-100,0,100,200,300,400,500,600,700,800,900,1000,1100],"labels":false,"title":null,"domain":false,"tickSize":{"condition":{"test":"datum.value % 200 == 0","value":-8},"value":-5}}},
"y":{"field":"i","type":"quantitative","scale":{"type":"log","domain":[1e-7,1e-3],"nice":false},"axis":{"orient":"right","values":[1e-7,2e-7,3e-7,4e-7,5e-7,6e-7,7e-7,8e-7,9e-7,1e-6,2e-6,3e-6,4e-6,5e-6,6e-6,7e-6,8e-6,9e-6,1e-5,2e-5,3e-5,4e-5,5e-5,6e-5,7e-5,8e-5,9e-5,1e-4,2e-4,3e-4,4e-4,5e-4,6e-4,7e-4,8e-4,9e-4,1e-3],"labels":false,"title":null,"domain":false,"tickSize":{"condition":{"test":"abs(log(datum.value)/LN10 - round(log(datum.value)/LN10)) < 0.001","value":-8},"value":-4}}},
"text":{"field":"l"}}},
{"data":{"values":[{"t":-89,"i":6.25e-4,"l":"(c)"}]},
"mark":{"type":"text","font":"Liberation Sans","fontWeight":"bold","fontSize":25,"align":"left","baseline":"middle","color":"black"},
"encoding":{
"x":{"field":"t","type":"quantitative","scale":{"domain":[-100,1100],"nice":false,"zero":false},"axis":null},
"y":{"field":"i","type":"quantitative","scale":{"type":"log","domain":[1e-7,1e-3],"nice":false},"axis":null},
"text":{"field":"l"}}}
]}
],
"spacing":3,
"center":true
}
